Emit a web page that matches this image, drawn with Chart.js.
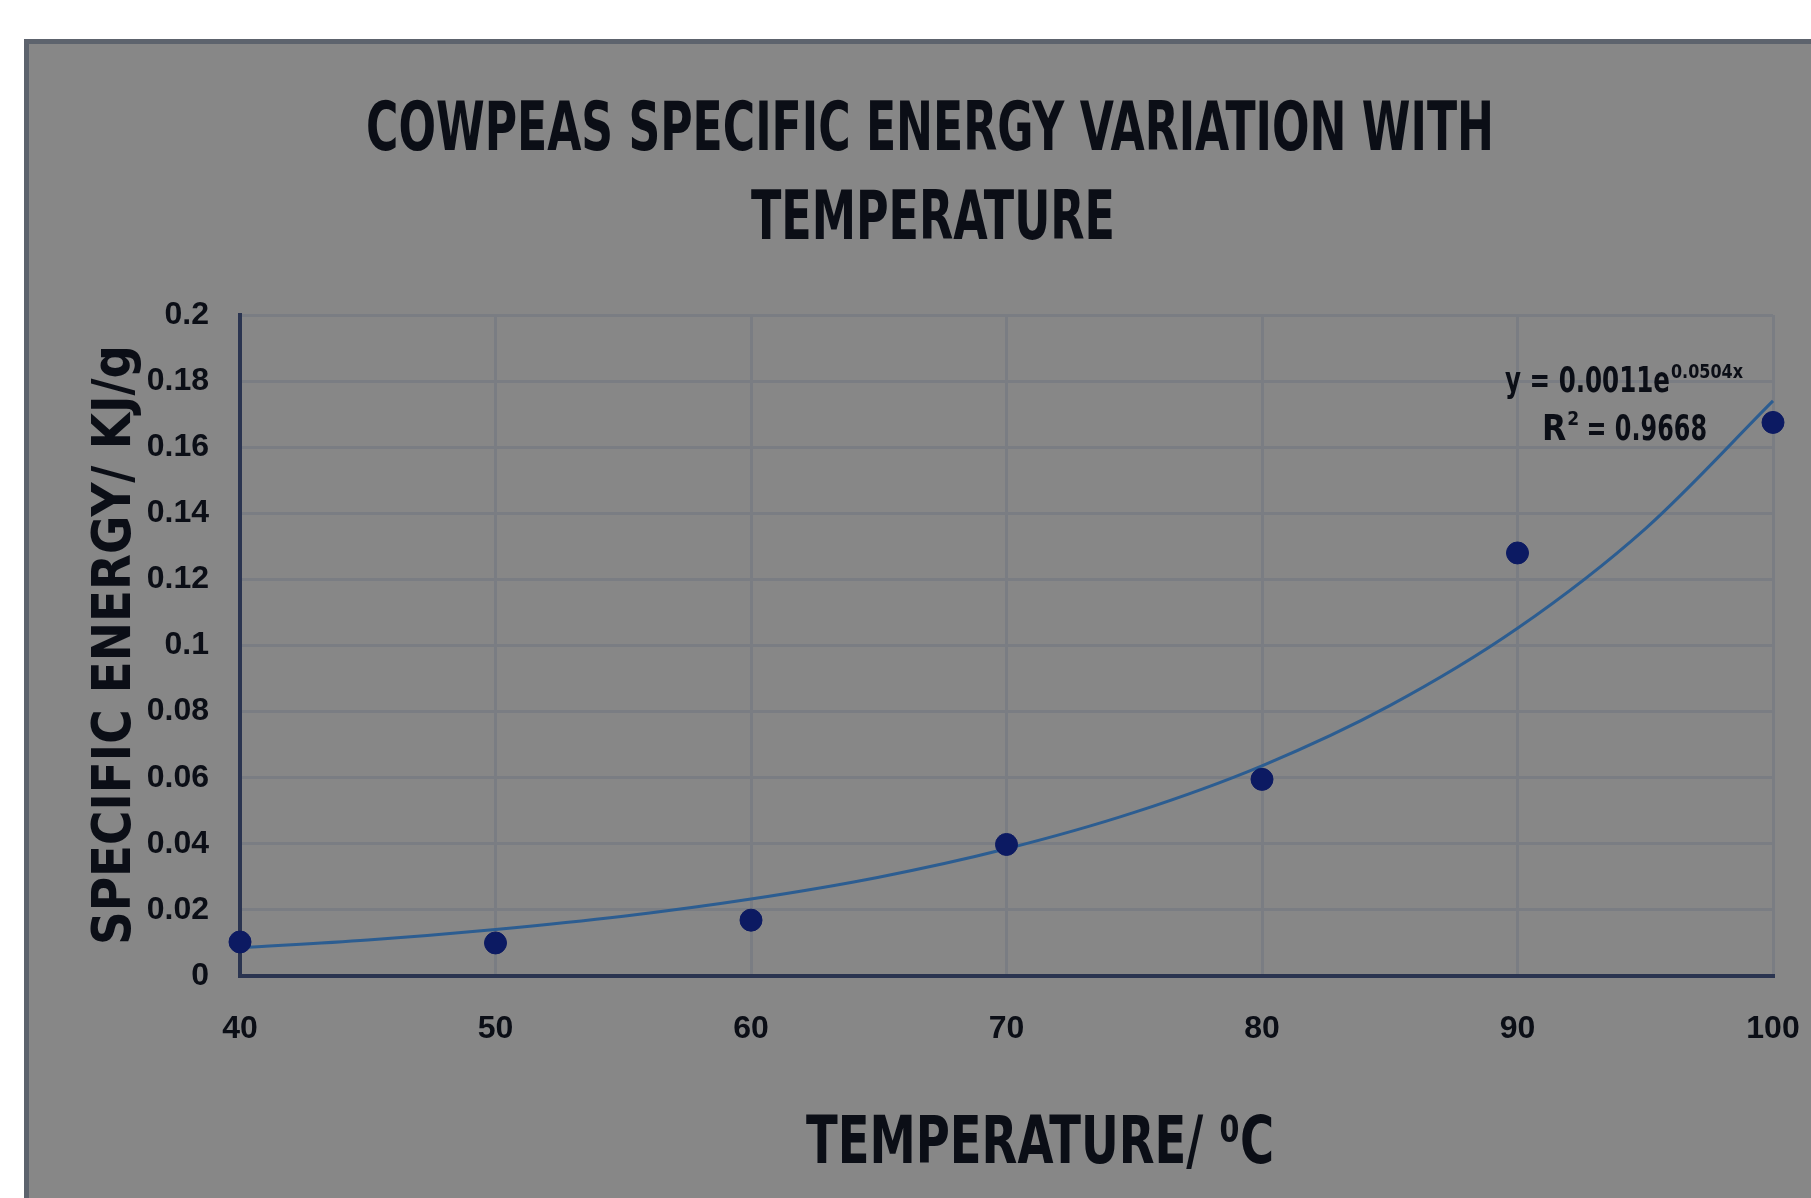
<!DOCTYPE html>
<html>
<head>
<meta charset="utf-8">
<script src="https://cdn.jsdelivr.net/npm/chart.js@4.4.0/dist/chart.umd.min.js"></script>
<style>
  html, body { margin: 0; padding: 0; background: #ffffff; }
  #wrap { width: 1811px; height: 1198px; }
</style>
</head>
<body>
<div id="wrap"><canvas id="chart" width="1811" height="1198"></canvas></div>
<script>
// Measured points (temperature in degC, specific energy in KJ/g)
const temperatures = [40, 50, 60, 70, 80, 90, 100];
const specificEnergy = [0.0103, 0.0100, 0.0169, 0.0398, 0.0595, 0.1280, 0.1675];

// Exponential trendline, every 5 degC
const trendTemps = [40, 45, 50, 55, 60, 65, 70, 75, 80, 85, 90, 95, 100];
const trendValues = [0.0085, 0.0109, 0.0141, 0.0181, 0.0233, 0.0299, 0.0385, 0.0495, 0.0636, 0.0818, 0.1052, 0.1353, 0.1740];

const xTickLabels = ['40', '50', '60', '70', '80', '90', '100'];
const yTickLabels = ['0', '0.02', '0.04', '0.06', '0.08', '0.1', '0.12', '0.14', '0.16', '0.18', '0.2'];

const titleLines = ['COWPEAS SPECIFIC ENERGY VARIATION WITH', 'TEMPERATURE'];
const xTitle = 'TEMPERATURE/ \u2070C';
const yTitle = 'SPECIFIC ENERGY/ KJ/g';
const eqMain = 'y = 0.0011e';
const eqExp = '0.0504x';
const r2Label = '0.9668';

const FAMILY = '"DejaVu Sans Condensed", "Liberation Sans", sans-serif';
const TICK_FAMILY = '"Liberation Sans", Arial, sans-serif';
const INK = '#0b0e16';

const backgroundPlugin = {
    id: 'panel',
    beforeDraw(chart) {
        const ctx = chart.ctx;
        ctx.save();
        ctx.fillStyle = '#ffffff';
        ctx.fillRect(0, 0, chart.width, chart.height);
        ctx.fillStyle = '#878787';
        ctx.fillRect(24, 39, chart.width - 24, chart.height - 39);
        // dark frame on top and left edge
        ctx.fillStyle = '#5d636d';
        ctx.fillRect(24, 39, chart.width - 24, 5);
        ctx.fillRect(24, 39, 5, chart.height - 39);
        ctx.restore();
    }
};

const textPlugin = {
    id: 'texts',
    afterDraw(chart) {
        const ctx = chart.ctx;
        ctx.save();
        ctx.fillStyle = INK;
        ctx.textBaseline = 'alphabetic';

        // chart title, squeezed like the condensed original
        ctx.textAlign = 'center';
        ctx.font = 'bold 68px ' + FAMILY;
        ctx.fillText(titleLines[0], 930, 150, 1128);
        ctx.fillText(titleLines[1], 933, 239, 364);

        // x axis title
        ctx.font = 'bold 66px ' + FAMILY;
        ctx.fillText(xTitle, 1040, 1163, 468);

        // y axis title
        ctx.save();
        ctx.translate(130, 645);
        ctx.rotate(-Math.PI / 2);
        ctx.font = 'bold 54px ' + FAMILY;
        ctx.fillText(yTitle, 0, 0, 600);
        ctx.restore();

        // trendline equation
        ctx.textAlign = 'left';
        ctx.font = 'bold 35px ' + FAMILY;
        ctx.fillText(eqMain, 1505, 392, 165);
        ctx.font = 'bold 19px ' + FAMILY;
        ctx.fillText(eqExp, 1671, 378, 72);

        ctx.font = 'bold 35px ' + FAMILY;
        ctx.fillText('R', 1542, 440);
        const rW = ctx.measureText('R').width;
        ctx.font = 'bold 19px ' + FAMILY;
        ctx.fillText('2', 1542 + rW + 1, 425);
        ctx.font = 'bold 35px ' + FAMILY;
        ctx.fillText(' = ' + r2Label, 1542 + rW + 12, 440, 1707 - (1542 + rW + 12));
        ctx.restore();
    }
};

const tickFont = { family: TICK_FAMILY, size: 32, weight: 'bold' };

new Chart(document.getElementById('chart'), {
    type: 'scatter',
    data: {
        datasets: [
            {
                label: 'Specific energy',
                data: temperatures.map((t, i) => ({ x: t, y: specificEnergy[i] })),
                pointRadius: 11,
                pointHoverRadius: 11,
                pointBackgroundColor: '#0c1a62',
                pointBorderColor: '#0c1a62',
                pointBorderWidth: 1,
                showLine: false,
                clip: false
            },
            {
                label: 'Expon. trendline',
                data: trendTemps.map((t, i) => ({ x: t, y: trendValues[i] })),
                showLine: true,
                borderColor: '#2c5d91',
                borderWidth: 3,
                pointRadius: 0,
                cubicInterpolationMode: 'monotone',
                clip: false
            }
        ]
    },
    options: {
        responsive: false,
        animation: false,
        events: [],
        layout: {
            padding: { left: 0, right: 38, top: 315, bottom: 0 }
        },
        plugins: {
            legend: { display: false },
            title: { display: false },
            tooltip: { enabled: false }
        },
        scales: {
            x: {
                type: 'linear',
                min: 40,
                max: 100,
                afterFit: scale => {
                    scale.height = 222;
                    scale.paddingLeft = 0;
                    scale.paddingRight = 0;
                },
                ticks: {
                    stepSize: 10,
                    padding: 34,
                    color: INK,
                    font: tickFont,
                    maxRotation: 0,
                    callback: (value, index) => xTickLabels[index]
                },
                grid: { color: '#7a7d83', lineWidth: 3, drawTicks: false },
                border: { color: '#2a3450', width: 4 }
            },
            y: {
                min: 0,
                max: 0.2,
                afterFit: scale => {
                    scale.width = 240;
                    scale.paddingTop = 0;
                    scale.paddingBottom = 0;
                },
                ticks: {
                    stepSize: 0.02,
                    padding: 31,
                    color: INK,
                    font: tickFont,
                    callback: (value, index) => yTickLabels[index]
                },
                grid: { color: '#7a7d83', lineWidth: 3, drawTicks: false },
                border: { color: '#2a3450', width: 4 }
            }
        }
    },
    plugins: [backgroundPlugin, textPlugin]
});
</script>
</body>
</html>
